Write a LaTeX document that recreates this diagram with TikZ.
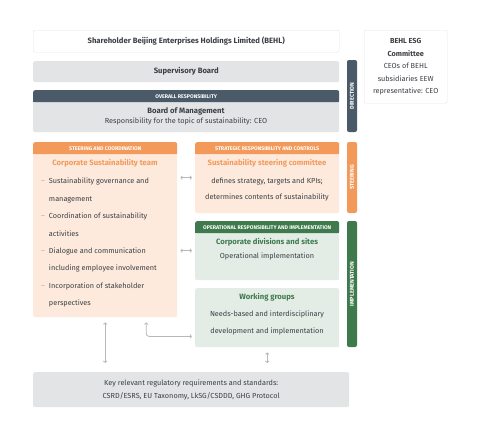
\documentclass[tikz,border=0pt]{standalone}
\usepackage{fontspec}
\setmainfont{Fira Sans}
\usetikzlibrary{arrows.meta}
\definecolor{slate}{HTML}{4B5A69}
\definecolor{greybox}{HTML}{E2E4E6}
\definecolor{orangeD}{HTML}{F39A5A}
\definecolor{orangeL}{HTML}{FDEADD}
\definecolor{greenD}{HTML}{3F7A4D}
\definecolor{greenL}{HTML}{E3EDE6}
\definecolor{txt}{HTML}{3B3F44}
\definecolor{frame}{HTML}{E4E6E8}
\definecolor{linkgrey}{HTML}{B5B9BD}

\begin{document}
\begin{tikzpicture}[x=1pt,y=-1pt,
    box/.style={anchor=north west,rounded corners=2pt,inner sep=0pt},
    hdr/.style={anchor=north west,rounded corners=2pt,inner sep=0pt,minimum height=12pt,text=white,font=\fontsize{5.3}{6}\selectfont\bfseries},
    bar/.style={rounded corners=2pt,inner sep=0pt,minimum height=10pt,rotate=90,text=white,font=\fontsize{5.6}{6}\selectfont\bfseries},
    txtnode/.style={text=txt,font=\fontsize{7.3}{12.5}\selectfont,align=center,inner sep=0pt},
    title/.style={txtnode,font=\fontsize{7.7}{8}\selectfont\bfseries},
    link/.style={draw=linkgrey,line width=0.8pt,{Straight Barb[length=1.5pt,width=3.5pt]}-{Straight Barb[length=1.5pt,width=3.5pt]}}]

    \useasboundingbox[fill=white] (0,0) rectangle (480,432);

    % Direction
    \node[box,draw=frame,fill=white,minimum width=306pt,minimum height=22pt] (share) at (33,30) {};
    \node[title] at (share.center) {Shareholder Beijing Enterprises Holdings Limited (BEHL)};
    \node[box,fill=greybox,minimum width=306pt,minimum height=21pt] (super) at (33,61) {};
    \node[title] at (super.center) {Supervisory Board};
    \node[box,fill=greybox,minimum width=306pt,minimum height=42pt] (board) at (33,90) {};
    \node[hdr,fill=slate,minimum width=306pt] (boardhd) at (33,90) {};
    \fill[slate] (33,98) rectangle (339,102);
    \node[hdr] at (boardhd.center) [anchor=center] {OVERALL RESPONSIBILITY};
    \node[title] at (186,111) {Board of Management};
    \node[txtnode] at (186,121.5) {Responsibility for the topic of sustainability: CEO};
    \node[box,draw=frame,fill=white,minimum width=83pt,minimum height=73pt] (esg) at (364,30) {};
    \node[txtnode] at (esg.center) {\textbf{BEHL ESG}\\\textbf{Committee}\\CEOs of BEHL\\subsidiaries EEW\\representative: CEO};

    % Steering
    \node[box,fill=orangeL,minimum width=144pt,minimum height=175pt] (coord) at (33,142) {};
    \node[hdr,fill=orangeD,minimum width=144pt] (coordhd) at (33,142) {};
    \fill[orangeD] (33,150) rectangle (177,154);
    \node[hdr] at (coordhd.center) [anchor=center] {STEERING AND COORDINATION};
    \node[title,text=orangeD] at (105,163) {Corporate Sustainability team};
    \node[txtnode,anchor=north west,font=\fontsize{7.3}{17.4}\selectfont] at (41,171.5) {%
      \begin{tabular}{@{}l@{\hspace{4pt}}l@{}}
        \textcolor{orangeD}{--} & Sustainability governance and\\
        & management\\
        \textcolor{orangeD}{--} & Coordination of sustainability\\
        & activities\\
        \textcolor{orangeD}{--} & Dialogue and communication\\
        & including employee involvement\\
        \textcolor{orangeD}{--} & Incorporation of stakeholder\\
        & perspectives
      \end{tabular}};

    \node[box,fill=orangeL,minimum width=144pt,minimum height=71pt] (strat) at (195,142) {};
    \node[hdr,fill=orangeD,minimum width=144pt] (strathd) at (195,142) {};
    \fill[orangeD] (195,150) rectangle (339,154);
    \node[hdr] at (strathd.center) [anchor=center] {STRATEGIC RESPONSIBILITY AND CONTROLS};
    \node[title,text=orangeD] at (267,163) {Sustainability steering committee};
    \node[txtnode,font=\fontsize{7.3}{16}\selectfont] at (267,190) {defines strategy, targets and KPIs;\\determines contents of sustainability};

    % Implementation
    \node[box,fill=greenL,minimum width=144pt,minimum height=59pt] (ops) at (195,221) {};
    \node[hdr,fill=greenD,minimum width=144pt] (opshd) at (195,221) {};
    \fill[greenD] (195,229) rectangle (339,233);
    \node[hdr] at (opshd.center) [anchor=center] {OPERATIONAL RESPONSIBILITY AND IMPLEMENTATION};
    \node[title,text=greenD] at (267,242) {Corporate divisions and sites};
    \node[txtnode] at (267,256) {Operational implementation};

    \node[box,fill=greenL,minimum width=144pt,minimum height=59pt] (wg) at (195,288) {};
    \node[title,text=greenD] at (267,297) {Working groups};
    \node[txtnode,font=\fontsize{7.3}{17.5}\selectfont] at (267,323) {Needs-based and interdisciplinary\\development and implementation};

    \node[box,fill=greybox,minimum width=316pt,minimum height=35pt] (rules) at (33,372) {};
    \node[txtnode,font=\fontsize{7.3}{13}\selectfont] at (rules.center) {Key relevant regulatory requirements and standards:\\CSRD/ESRS, EU Taxonomy, LkSG/CSDDD, GHG Protocol};

    % side bars
    \node[bar,fill=slate,minimum width=72pt] (dir) at (352,96) {DIRECTION};
    \node[bar,fill=orangeD,minimum width=71pt] (steer) at (352,177.5) {STEERING};
    \node[bar,fill=greenD,minimum width=126pt] (impl) at (352,284) {IMPLEMENTATION};

    % links
    \draw[link,shorten <=3pt,shorten >=3pt] (coord.east |- strat.center) -- (strat.west);
    \draw[link,shorten <=3pt,shorten >=3pt] (coord.east |- ops.center) -- (ops.west);
    \draw[link,shorten <=5pt,shorten >=9pt] (coord.south) -- (rules.north -| coord.south);
    \draw[link,rounded corners=3pt] ([xshift=41pt,yshift=-5pt]coord.south) |- ([xshift=-3pt,yshift=11pt]wg.south west);
    \draw[link,shorten <=5pt,shorten >=9pt] (wg.south) -- (rules.north -| wg.south);
\end{tikzpicture}
\end{document}
